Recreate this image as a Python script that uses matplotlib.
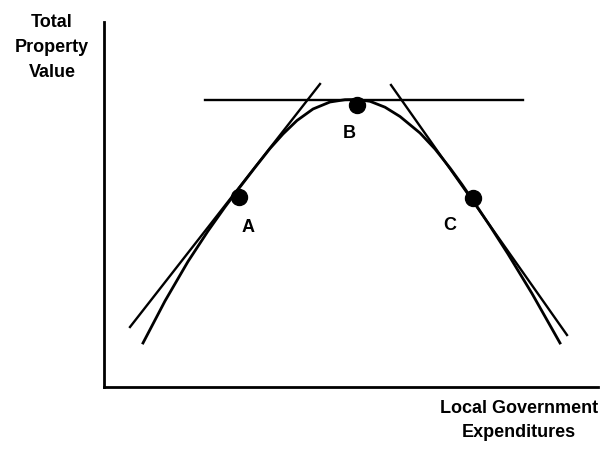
import matplotlib
matplotlib.use("Agg")
import matplotlib.pyplot as plt

plt.rcParams['font.family'] = ['Liberation Sans', 'DejaVu Sans']

# curve (arbitrary units, origin at the axes corner)
curve_x = [39, 61, 84, 104, 121, 136, 151, 166, 179, 193, 209, 226, 241, 253,
           266, 281, 296, 316, 331, 346, 358, 371, 386, 404, 428, 456]
curve_y = [44, 86, 125.5, 156, 180, 200, 219.5, 238.5, 253, 266.5, 278, 285, 287.3, 287.5,
           285.7, 279.8, 270.5, 254, 238, 219, 202.5, 183.5, 161, 133, 93.5, 44]

# tangent lines at A, B, C (end points)
tan_a_x = [26, 216]
tan_a_y = [60, 303]
tan_b_x = [101, 419]
tan_b_y = [287.5, 287.5]
tan_c_x = [287, 463]
tan_c_y = [302, 52]

point_names = ['A', 'B', 'C']
point_x = [134.5, 253, 369]
point_y = [190, 282, 189.5]
label_x = [144, 245, 346]
label_y = [160, 253, 162]

W, H = 609, 455
fig = plt.figure(figsize=(W / 100, H / 100), dpi=100)
ax = fig.add_axes([104 / W, 68 / H, 494 / W, 365 / H])
ax.set_xlim(0, 494)
ax.set_ylim(0, 365)
for side in ['top', 'right']:
    ax.spines[side].set_visible(False)
for side in ['left', 'bottom']:
    ax.spines[side].set_linewidth(2)
    ax.spines[side].set_color('black')
ax.set_xticks([])
ax.set_yticks([])

lw = 1.7
ax.plot(curve_x, curve_y, color='black', lw=2, solid_joinstyle='round')
ax.plot(tan_a_x, tan_a_y, color='black', lw=lw)
ax.plot(tan_b_x, tan_b_y, color='black', lw=lw)
ax.plot(tan_c_x, tan_c_y, color='black', lw=lw)
ax.plot(point_x, point_y, 'o', color='black', ms=11.5, clip_on=False)

for name, lx, ly in zip(point_names, label_x, label_y):
    ax.text(lx, ly, name, ha='center', va='center', fontsize=13, fontweight='bold')

fig.text(52 / W, 1 - 47.5 / H, 'Total\nProperty\nValue', ha='center', va='center',
         fontsize=13, fontweight='bold', linespacing=1.6)
fig.text(519 / W, 1 - 420.5 / H, 'Local Government\nExpenditures', ha='center', va='center',
         fontsize=13, fontweight='bold', linespacing=1.6)

fig.savefig('out.png', dpi=100)
